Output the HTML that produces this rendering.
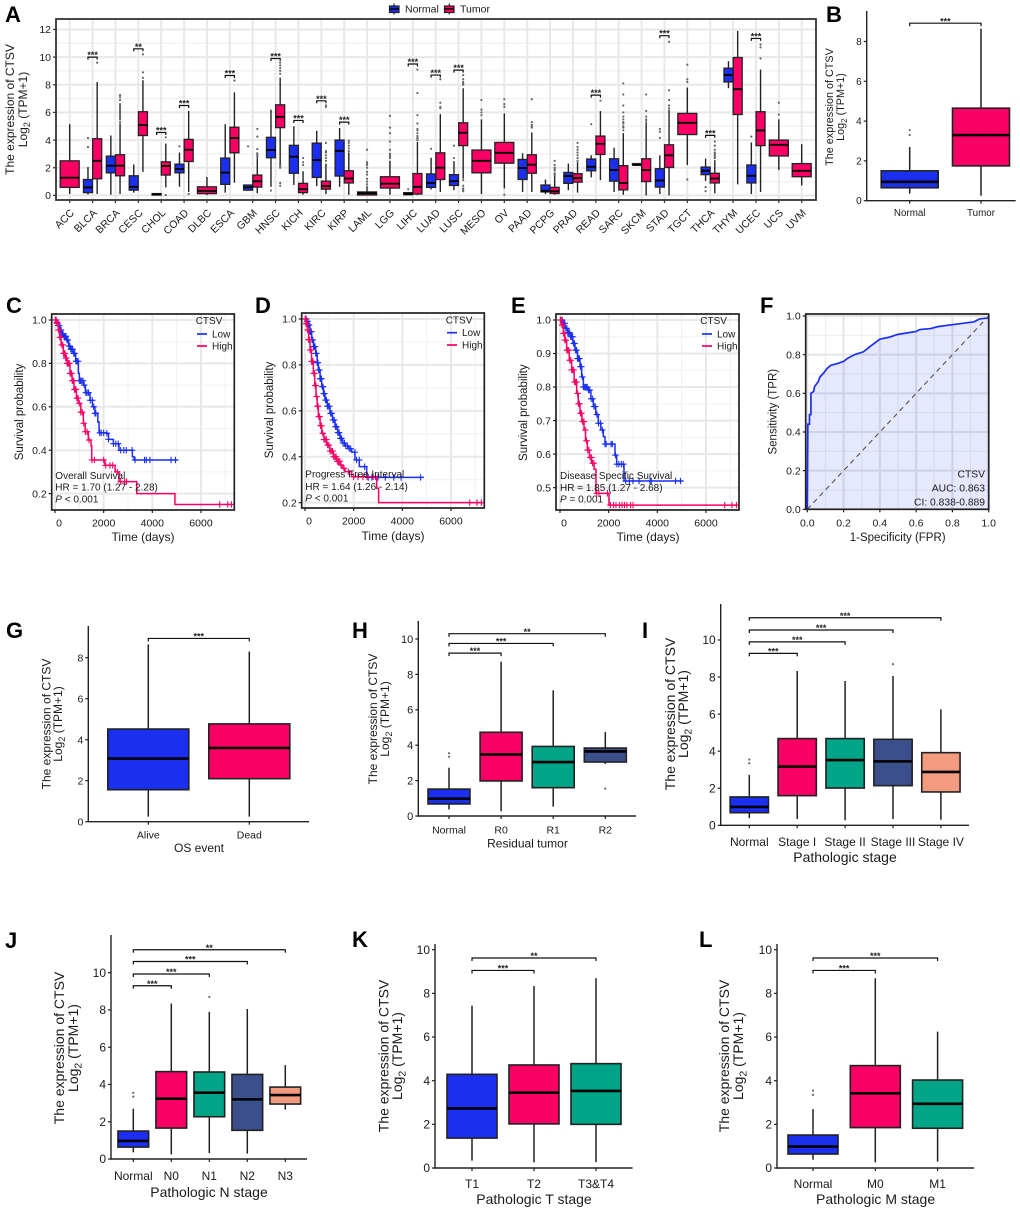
<!DOCTYPE html>
<html lang="en">
<head>
<meta charset="utf-8">
<title>CTSV expression figure</title>
<style>
html,body{margin:0;padding:0;background:#fff;}
svg{display:block;font-family:"Liberation Sans",Arial,sans-serif;filter:blur(0.3px);}
.letter{font-size:22px;font-weight:700;fill:#000;}
.ytitle{text-anchor:middle;fill:#1a1a1a;}
.xtitle{text-anchor:middle;fill:#1a1a1a;}
.note{font-size:10px;fill:#1a1a1a;}
</style>
</head>
<body>
<svg id="figure" xmlns="http://www.w3.org/2000/svg" width="1020" height="1212" viewBox="0 0 1020 1212">
<rect x="0" y="0" width="1020" height="1212" fill="#fff"/>

<g>
  <g id="marks-a"></g>
  <text class="letter" x="5" y="22">A</text>
  <text class="ytitle" font-size="12" transform="translate(14 109.5) rotate(-90)">The expression of CTSV</text>
  <text class="ytitle" font-size="12" transform="translate(27 109.5) rotate(-90)">Log<tspan font-size="9" dy="3">2</tspan><tspan dy="-3"> (TPM+1)</tspan></text>
  <g>
    <line x1="394" x2="394" y1="3.5" y2="14.5" stroke="#222" stroke-width="1.2"/>
    <rect x="389.5" y="6" width="9.5" height="6.5" fill="#1a2ff0" stroke="#222" stroke-width="1.2"/>
    <line x1="389.5" x2="399" y1="9" y2="9" stroke="#000" stroke-width="1.5"/>
    <text x="405" y="12.7" font-size="10.5" fill="#1a1a1a">Normal</text>
    <line x1="449.3" x2="449.3" y1="3.5" y2="14.5" stroke="#222" stroke-width="1.2"/>
    <rect x="444.5" y="6" width="9.5" height="6.5" fill="#fa0064" stroke="#222" stroke-width="1.2"/>
    <line x1="444.5" x2="454" y1="9" y2="9" stroke="#000" stroke-width="1.5"/>
    <text x="460" y="12.7" font-size="10.5" fill="#1a1a1a">Tumor</text>
  </g>
</g>

<g>
  <g id="marks-b"></g>
  <text class="letter" x="826" y="22">B</text>
  <text class="ytitle" font-size="10.8" transform="translate(833 107) rotate(-90)">The expression of CTSV</text>
  <text class="ytitle" font-size="10.8" transform="translate(844 107) rotate(-90)">Log<tspan font-size="8" dy="3">2</tspan><tspan dy="-3"> (TPM+1)</tspan></text>
</g>

<g>
  <g id="marks-c"></g>
  <text class="letter" x="6" y="313">C</text>
  <text class="ytitle" font-size="11.5" transform="translate(23 412) rotate(-90)">Survival probability</text>
  <text class="xtitle" font-size="12" x="143" y="541">Time (days)</text>
  <text class="note" x="55.3" y="479">Overall Survival</text>
  <text class="note" x="55.3" y="490.5">HR = 1.70 (1.27 -  2.28)</text>
  <text class="note" x="55.3" y="502.5"><tspan font-style="italic">P</tspan> &lt; 0.001</text>
  <text class="note" x="195.7" y="324">CTSV</text>
  <line x1="197" x2="207" y1="334" y2="334" stroke="#1a2ff0" stroke-width="1.7"/>
  <text class="note" x="212" y="337.5">Low</text>
  <line x1="197" x2="207" y1="346" y2="346" stroke="#fa0064" stroke-width="1.7"/>
  <text class="note" x="212" y="349.5">High</text>
</g>

<g>
  <g id="marks-d"></g>
  <text class="letter" x="255" y="313">D</text>
  <text class="ytitle" font-size="11.5" transform="translate(273 410) rotate(-90)">Survival probability</text>
  <text class="xtitle" font-size="12" x="393" y="540">Time (days)</text>
  <text class="note" x="305.3" y="477.7">Progress Free Interval</text>
  <text class="note" x="305.3" y="490">HR = 1.64 (1.26 -  2.14)</text>
  <text class="note" x="305.3" y="501.5"><tspan font-style="italic">P</tspan> &lt; 0.001</text>
  <text class="note" x="445.7" y="323.5">CTSV</text>
  <line x1="447" x2="457" y1="332.7" y2="332.7" stroke="#1a2ff0" stroke-width="1.7"/>
  <text class="note" x="462" y="336.2">Low</text>
  <line x1="447" x2="457" y1="345" y2="345" stroke="#fa0064" stroke-width="1.7"/>
  <text class="note" x="462" y="348.5">High</text>
</g>

<g>
  <g id="marks-e"></g>
  <text class="letter" x="511" y="313">E</text>
  <text class="ytitle" font-size="11.5" transform="translate(527 412.7) rotate(-90)">Survival probability</text>
  <text class="xtitle" font-size="12" x="648" y="541">Time (days)</text>
  <text class="note" x="560" y="479">Disease Specific Survival</text>
  <text class="note" x="560" y="490.8">HR = 1.85 (1.27 -  2.68)</text>
  <text class="note" x="560" y="502.5"><tspan font-style="italic">P</tspan> = 0.001</text>
  <text class="note" x="700.3" y="324">CTSV</text>
  <line x1="702" x2="712" y1="334" y2="334" stroke="#1a2ff0" stroke-width="1.7"/>
  <text class="note" x="717" y="337.5">Low</text>
  <line x1="702" x2="712" y1="346" y2="346" stroke="#fa0064" stroke-width="1.7"/>
  <text class="note" x="717" y="349.5">High</text>
</g>

<g>
  <g id="marks-f"></g>
  <text class="letter" x="760" y="313">F</text>
  <text class="ytitle" font-size="11.5" transform="translate(776.5 411.7) rotate(-90)">Sensitivity (TPR)</text>
  <text class="xtitle" font-size="11.5" x="897.7" y="541">1-Specificity (FPR)</text>
  <text font-size="10.3" fill="#1a1a1a" text-anchor="end" x="985" y="477.5">CTSV</text>
  <text font-size="10.3" fill="#1a1a1a" text-anchor="end" x="985" y="491.5">AUC: 0.863</text>
  <text font-size="10.3" fill="#1a1a1a" text-anchor="end" x="985" y="505.5">CI: 0.838-0.889</text>
</g>

<g>
  <g id="marks-g"></g>
  <text class="letter" x="6" y="638">G</text>
  <text class="ytitle" font-size="12" transform="translate(50.5 724) rotate(-90)">The expression of CTSV</text>
  <text class="ytitle" font-size="12" transform="translate(62 724) rotate(-90)">Log<tspan font-size="9" dy="3">2</tspan><tspan dy="-3"> (TPM+1)</tspan></text>
  <text class="xtitle" font-size="12" x="199" y="852">OS event</text>
</g>

<g>
  <g id="marks-h"></g>
  <text class="letter" x="352" y="638">H</text>
  <text class="ytitle" font-size="12" transform="translate(377 719) rotate(-90)">The expression of CTSV</text>
  <text class="ytitle" font-size="12" transform="translate(389 719) rotate(-90)">Log<tspan font-size="9" dy="3">2</tspan><tspan dy="-3"> (TPM+1)</tspan></text>
  <text class="xtitle" font-size="12" x="527.5" y="847.5">Residual tumor</text>
</g>

<g>
  <g id="marks-i"></g>
  <text class="letter" x="642" y="638">I</text>
  <text class="ytitle" font-size="14" transform="translate(675 714) rotate(-90)">The expression of CTSV</text>
  <text class="ytitle" font-size="14" transform="translate(688 714) rotate(-90)">Log<tspan font-size="10.5" dy="3.5">2</tspan><tspan dy="-3.5"> (TPM+1)</tspan></text>
  <text class="xtitle" font-size="14" x="845" y="862">Pathologic stage</text>
</g>

<g>
  <g id="marks-j"></g>
  <text class="letter" x="5" y="948">J</text>
  <text class="ytitle" font-size="14" transform="translate(64 1048) rotate(-90)">The expression of CTSV</text>
  <text class="ytitle" font-size="14" transform="translate(78 1048) rotate(-90)">Log<tspan font-size="10.5" dy="3.5">2</tspan><tspan dy="-3.5"> (TPM+1)</tspan></text>
  <text class="xtitle" font-size="14" x="209" y="1197">Pathologic N stage</text>
</g>

<g>
  <g id="marks-k"></g>
  <text class="letter" x="352" y="947">K</text>
  <text class="ytitle" font-size="14" transform="translate(388.5 1056) rotate(-90)">The expression of CTSV</text>
  <text class="ytitle" font-size="14" transform="translate(402 1056) rotate(-90)">Log<tspan font-size="10.5" dy="3.5">2</tspan><tspan dy="-3.5"> (TPM+1)</tspan></text>
  <text class="xtitle" font-size="14" x="534" y="1204">Pathologic T stage</text>
</g>

<g>
  <g id="marks-l"></g>
  <text class="letter" x="699" y="947">L</text>
  <text class="ytitle" font-size="14" transform="translate(729 1056) rotate(-90)">The expression of CTSV</text>
  <text class="ytitle" font-size="14" transform="translate(743 1056) rotate(-90)">Log<tspan font-size="10.5" dy="3.5">2</tspan><tspan dy="-3.5"> (TPM+1)</tspan></text>
  <text class="xtitle" font-size="14" x="875.6" y="1204">Pathologic M stage</text>
</g>
</svg>

<script>
/* ===== Panel A data: box stats are [low whisker, q1, median, q3, high whisker] ===== */
const aCategories = ["ACC","BLCA","BRCA","CESC","CHOL","COAD","DLBC","ESCA","GBM","HNSC","KICH","KIRC","KIRP","LAML","LGG","LIHC","LUAD","LUSC","MESO","OV","PAAD","PCPG","PRAD","READ","SARC","SKCM","STAD","TGCT","THCA","THYM","UCEC","UCS","UVM"];
const aTickLabels = [0,2,4,6,8,10,12];
const aNormalStats = [null,[0.07,0.2,0.58,1.15,2.05],[0.05,1.63,2.15,2.84,4.33],[0.2,0.38,0.62,1.42,2.24],[0,0.03,0.07,0.13,0.15],[0.62,1.63,1.9,2.26,3.1],null,[0.2,0.8,1.65,2.7,5.15],[0.38,0.38,0.58,0.75,0.75],[0.62,2.72,3.28,4.2,6.2],[0.75,1.6,2.8,3.62,5],[0.67,1.3,2.55,3.78,4.67],[0.62,1.4,3.22,4,4.88],null,null,[0.03,0.05,0.1,0.2,0.25],[0.43,0.58,0.9,1.55,2.72],[0.38,0.72,1.03,1.5,2.48],null,null,[0.25,1.15,1.98,2.6,3.05],[0.1,0.25,0.33,0.75,1.15],[0.38,0.87,1.4,1.66,2.3],[1.3,1.78,2.07,2.63,2.9],[0.25,1.03,1.83,2.65,3.45],[2.2,2.2,2.2,2.3,2.3],[0.1,0.6,1.08,1.93,2.9],null,[1.05,1.5,1.78,2.05,2.67],[7.75,8.2,8.7,9.2,9.7],[0.1,0.9,1.42,2.2,3.83],null,null];
const aTumorStats = [[0.1,0.58,1.28,2.5,5.15],[0.1,1.2,2.5,4.1,8.2],[0.1,1.42,2.15,2.94,5.2],[1.7,4.33,5.08,6.05,8.33],[0.58,1.47,2.13,2.43,3.75],[0.25,2.45,3.3,4.05,6.1],[0.02,0.13,0.33,0.62,1.33],[0.92,3.08,4.15,4.93,7.45],[0.15,0.6,1.02,1.47,2.67],[2.3,4.9,5.68,6.55,8.52],[0.05,0.2,0.45,0.87,1.75],[0.1,0.45,0.67,1.03,2.3],[0.05,0.9,1.22,1.78,3.1],[0,0.03,0.15,0.25,0.28],[0.05,0.53,0.85,1.35,2.5],[0.02,0.1,0.62,1.58,3.87],[0.25,1.15,2,3.08,5.88],[1.2,3.6,4.53,5.25,7.75],[0.1,1.63,2.5,3.28,5.5],[0.5,2.33,3.08,3.83,5.93],[0.25,1.6,2.22,2.94,4.55],[0.05,0.14,0.3,0.58,1.35],[0.2,0.96,1.25,1.57,2.4],[1.1,2.96,3.73,4.29,6.1],[0.05,0.4,0.9,2.15,4.5],[0,1,1.83,2.65,5.3],[0,2.02,2.9,3.66,6.2],[2.2,4.4,5.25,5.93,7.8],[0.15,0.9,1.22,1.6,2.55],[0.8,5.85,7.68,9.97,11.9],[0.25,3.6,4.7,6.05,9.1],[1.83,2.85,3.66,4,5.5],[0.72,1.35,1.78,2.3,3.7]];
const aNormalOutliers = [[],[3.5,4.15],[],[],[],[3.55],[],[],[3.55],[0.35],[],[],[],[],[],[0.45],[3.37],[2.7,3.6],[],[],[],[],[],[5.15],[],[],[4.15,4.6,4.8],[],[0.3,0.6],[],[4.25],[],[]];
const aTumorOutliers = [[],[9.6],[5.3,5.5,5.6,5.7,5.8,5.9,6,6.1,6.2,6.3,6.4,6.5,6.6,6.9,7.1,7.25],[8.5,8.9,10.2],[0.02,4.2],[0.1],[],[8.3],[2.75,2.85,2.95,3.05,3.35,4.25,4.8],[8.8,9,9.2,9.4,9.6,2,2.1,2.2,2.3,0.7,0.9],[2.2,2.4,2.7],[2.5,2.7,2.9,3.1,3.2,3.8,6.4,6.5],[3.2,3.4,3.6,3.8,3.95],[0.3,0.4,0.5,0.6,0.8,1,1.2,1.5,1.7,2,2.2,2.3,2.4,3.3],[2.7,2.8,2.9,3,3.3,3.9,4.5,4.9,5.75],[4,4.1,4.2,4.3,4.5,4.7,4.8,5.2,5.8,7.4,9.1],[6.3,6.4,6.7,8.4],[8,8.1,8.2,8.4,8.7,0.3,0.4,0.5,0.7,1.1],[5.8,6,6.2,6.9],[0.05,6.4,6.6,6.95],[4.9,5,5.1,5.3,6.95],[1.4,1.5,1.6,1.8,1.9,2,2.2,2.5],[2.5,2.7,2.9,3.1,3.3,3.5,3.8],[6.85],[4.7,4.9,5,5.2,5.3,5.5,5.7,6,6.5,7.3,8.1],[5.4,5.5,5.7,6.1,7.3],[6.3,6.5,6.9,7.6,11.1],[1.15,8.2,8.4,9.45],[2.7,2.8,2.9,3,3.1,3.3,3.6,3.9],[],[9.9,10.7,10.9],[5.85,6.7],[]];
const aSigCategories = ["BLCA","CESC","CHOL","COAD","ESCA","HNSC","KICH","KIRC","KIRP","LIHC","LUAD","LUSC","READ","STAD","THCA","UCEC"];
const aSigLevels = [10,10.6,4.55,6.5,8.67,9.9,5.42,6.84,5.3,9.5,8.7,9.06,7.25,11.55,4.34,11.35];
const aSigLabels = ["***","**","***","***","***","***","***","***","***","***","***","***","***","***","***","***"];

/* ===== Panel B ===== */
const bCategories = ["Normal","Tumor"];
const bTickLabels = [0,2,4,6,8];
const bStats = [[0.35,0.65,0.95,1.5,2.7],[0.25,1.75,3.3,4.65,8.65]];
const bOutliers = [[3.3,3.55],[]];
const bBracketEnds = [1];
const bBracketLevels = [8.92];
const bBracketLabels = ["***"];

/* ===== Panel C, D, E: Kaplan-Meier curves ===== */
const cLowTimes = [0,60,120,205,280,360,480,560,650,750,850,960,1000,1165,1250,1440,1540,1640,1760,1810,2120,2200,2400,2630,3180,3250];
const cLowSurvival = [1,0.99,0.975,0.954,0.935,0.925,0.908,0.88,0.865,0.846,0.81,0.754,0.72,0.7,0.665,0.63,0.6,0.57,0.53,0.48,0.478,0.45,0.43,0.4,0.37,0.355];
const cLowCensored = [30,80,130,170,210,250,290,330,370,410,450,490,530,570,610,650,690,730,770,810,860,900,950,1000,1050,1100,1150,1200,1270,1320,1380,1450,1530,1590,1640,1680,1840,1900,2000,2130,2200,2400,2500,2600,2700,2830,2930,3170,3290,3680,3750,3900,4770,4950];
const cHighTimes = [0,70,137,190,250,340,420,500,616,700,780,880,960,1060,1165,1240,1370,1480,1510,2050,2470,2630,3360,4930];
const cHighSurvival = [1,0.985,0.954,0.92,0.885,0.846,0.825,0.8,0.754,0.72,0.68,0.64,0.616,0.575,0.524,0.485,0.447,0.42,0.355,0.33,0.3,0.255,0.2,0.15];
const cHighCensored = [20,50,80,110,140,170,200,240,280,320,350,380,410,440,470,500,530,560,590,620,650,680,710,740,770,800,830,860,900,950,1000,1060,1120,1180,1250,1320,1400,1520,1620,2000,2080,2260,2370,2560,2700,2860,2940,6770,7100,7250];
const kmTimeTicks = [0,2000,4000,6000];

const dLowTimes = [0,70,137,200,274,350,438,500,548,620,685,760,822,920,1027,1130,1233,1340,1438,1540,1644,1780,1918,2055,2233,2534];
const dLowSurvival = [1,0.99,0.974,0.945,0.909,0.88,0.85,0.81,0.778,0.74,0.705,0.675,0.647,0.62,0.589,0.56,0.531,0.505,0.48,0.46,0.447,0.435,0.42,0.386,0.357,0.31];
const dLowCensored = [20,50,80,110,140,170,200,230,260,290,320,350,380,410,440,470,500,530,560,590,620,650,680,710,740,770,800,840,880,920,960,1000,1050,1100,1150,1200,1250,1300,1350,1400,1450,1500,1560,1620,1680,1750,1820,1880,2050,2120,2230,2450,2600,2750,3000,3300,3650,3950,4750];
const dHighTimes = [0,50,96,150,205,270,342,400,452,500,548,620,685,780,890,1020,1164,1300,1438,1540,1644,1918,2945,3027];
const dHighSurvival = [1,0.98,0.952,0.91,0.865,0.815,0.763,0.71,0.662,0.62,0.575,0.535,0.502,0.475,0.451,0.425,0.4,0.38,0.364,0.35,0.335,0.313,0.263,0.2];
const dHighCensored = [10,30,50,70,90,110,130,150,170,190,210,240,270,300,330,360,390,420,450,480,510,540,570,600,640,680,730,780,830,880,930,980,1030,1080,1130,1180,1230,1280,1330,1380,1430,1480,1600,1780,2000,2180,2380,2550,2800,2900,6770,7070,7250];

const eLowTimes = [0,100,205,320,438,530,616,720,822,890,959,1164,1270,1370,1470,1575,1680,1781,1849,2123,2260,2329,2630];
const eLowSurvival = [1,0.99,0.975,0.962,0.95,0.93,0.91,0.885,0.861,0.83,0.8,0.791,0.765,0.742,0.718,0.692,0.672,0.652,0.63,0.63,0.597,0.57,0.52];
const eLowCensored = [40,90,140,190,240,280,320,360,400,440,480,520,560,600,640,680,720,760,800,840,880,920,960,1000,1040,1080,1120,1170,1220,1280,1340,1400,1450,1520,1580,1660,1740,1850,1900,2100,2150,2280,2340,2420,2520,2600,2700,2850,3000,3250,3700,3750,4750,4950];
const eHighTimes = [0,60,137,200,274,380,479,580,685,750,822,900,986,1050,1123,1210,1301,1400,1479,1959,2014];
const eHighSurvival = [1,0.985,0.96,0.94,0.91,0.88,0.851,0.815,0.781,0.75,0.722,0.697,0.672,0.64,0.612,0.59,0.573,0.555,0.483,0.483,0.448];
const eHighCensored = [20,50,80,110,140,170,200,240,280,320,360,400,440,480,520,560,600,640,680,720,760,800,840,880,930,980,1040,1090,1140,1190,1240,1290,1340,1390,1510,1600,1950,2070,2200,2300,2450,2550,2650,2750,2900,3000,6770,7070,7250];

/* ===== Panel F: ROC ===== */
const fFpr = [0,0.003,0.012,0.012,0.02,0.02,0.035,0.04,0.06,0.07,0.09,0.11,0.13,0.17,0.2,0.22,0.26,0.31,0.35,0.4,0.45,0.5,0.6,0.62,0.68,0.72,0.8,0.92,0.95,1];
const fTpr = [0,0.44,0.44,0.49,0.49,0.6,0.61,0.635,0.66,0.685,0.705,0.73,0.745,0.755,0.765,0.78,0.8,0.815,0.845,0.88,0.89,0.905,0.92,0.93,0.935,0.945,0.955,0.97,0.985,0.99];
const fTicks = [0,0.2,0.4,0.6,0.8,1];

/* ===== Panel G ===== */
const gCategories = ["Alive","Dead"];
const gTickLabels = [0,2,4,6,8];
const gStats = [[0.25,1.56,3.08,4.52,8.65],[0.25,2.1,3.6,4.77,8.3]];
const gOutliers = [[],[]];
const gBracketEnds = [1];
const gBracketLevels = [8.94];
const gBracketLabels = ["***"];

/* ===== Panel H ===== */
const hCategories = ["Normal","R0","R1","R2"];
const hTickLabels = [0,2,4,6,8,10];
const hStats = [[0.37,0.68,0.98,1.52,2.73],[0.26,1.98,3.48,4.73,8.72],[0.53,1.6,3.05,3.93,7.1],[2.94,3.05,3.65,3.84,4.75]];
const hOutliers = [[3.35,3.55],[],[],[1.55]];
const hBracketEnds = [1,2,3];
const hBracketLevels = [9.2,9.75,10.3];
const hBracketLabels = ["***","***","**"];

/* ===== Panel I ===== */
const iCategories = ["Normal","Stage I","Stage II","Stage III","Stage IV"];
const iTickLabels = [0,2,4,6,8,10];
const iStats = [[0.38,0.68,0.99,1.53,2.72],[0.34,1.6,3.17,4.68,8.33],[0.27,2.01,3.52,4.68,7.79],[0.34,2.14,3.45,4.64,8.06],[0.3,1.8,2.88,3.92,6.26]];
const iOutliers = [[3.35,3.55],[],[],[8.7],[]];
const iBracketEnds = [1,2,3,4];
const iBracketLevels = [9.28,9.9,10.54,11.2];
const iBracketLabels = ["***","***","***","***"];

/* ===== Panel J ===== */
const jCategories = ["Normal","N0","N1","N2","N3"];
const jTickLabels = [0,2,4,6,8,10];
const jStats = [[0.36,0.64,0.97,1.5,2.7],[0.25,1.66,3.24,4.69,8.35],[0.32,2.27,3.56,4.67,7.9],[0.29,1.54,3.2,4.54,8.05],[2.65,2.95,3.43,3.86,5.04]];
const jOutliers = [[3.35,3.55],[],[8.7],[],[]];
const jBracketEnds = [1,2,3,4];
const jBracketLevels = [9.3,9.93,10.6,11.23];
const jBracketLabels = ["***","***","***","**"];

/* ===== Panel K ===== */
const kCategories = ["T1","T2","T3&T4"];
const kTickLabels = [0,2,4,6,8,10];
const kStats = [[0.34,1.37,2.73,4.29,7.44],[0.26,2.02,3.45,4.72,8.34],[0.27,2,3.53,4.78,8.69]];
const kOutliers = [[],[],[]];
const kBracketEnds = [1,2];
const kBracketLevels = [9.05,9.62];
const kBracketLabels = ["***","**"];

/* ===== Panel L ===== */
const lCategories = ["Normal","M0","M1"];
const lTickLabels = [0,2,4,6,8,10];
const lStats = [[0.38,0.64,0.98,1.51,2.7],[0.26,1.85,3.42,4.69,8.69],[0.29,1.82,2.94,4.03,6.25]];
const lOutliers = [[3.35,3.55],[],[]];
const lBracketEnds = [1,2];
const lBracketLevels = [9.05,9.62];
const lBracketLabels = ["***","***"];

/* ===== Drawing ===== */
const NS = "http://www.w3.org/2000/svg";
const BLUE = "#1a2ff0", PINK = "#fa0064", TEAL = "#00a587", NAVY = "#3b4f8c", SALMON = "#f39b7f";
const palette = [BLUE, PINK, TEAL, NAVY, SALMON];

function mk(parent, tag, attrs) {
  const e = document.createElementNS(NS, tag);
  for (const k in attrs) e.setAttribute(k, attrs[k]);
  parent.appendChild(e);
  return e;
}
function txt(parent, str, x, y, size, anchor, fill) {
  const e = mk(parent, "text", {x: x, y: y + size * 0.35, "font-size": size, "text-anchor": anchor, fill: fill || "#1a1a1a"});
  e.textContent = str;
  return e;
}

function drawBox(g, cx, w, s, color, name, boxSw, medSw, whSw) {
  const y = g.__y;
  const whisker = mk(g, "line", {x1: cx, x2: cx, y1: y(s[0]), y2: y(s[4]), stroke: "#222", "stroke-width": whSw});
  
  
  const box = mk(g, "rect", {x: cx - w / 2, y: y(s[3]), width: w, height: Math.max(y(s[1]) - y(s[3]), 0.5), fill: color, stroke: "#222", "stroke-width": boxSw});
  
  
  const med = mk(g, "line", {x1: cx - w / 2, x2: cx + w / 2, y1: y(s[2]), y2: y(s[2]), stroke: "#000", "stroke-width": medSw});
  
  
}
function drawOutliers(g, cx, vals, r, name) {
  vals.forEach(function (v) {
    const c = mk(g, "circle", {cx: cx, cy: g.__y(v), r: r, fill: "#666"});
    
    
  });
}
function drawBracket(g, x1, x2, v, label, drop, size) {
  const y = g.__y(v);
  const p = mk(g, "path", {d: "M" + x1 + " " + (y + drop) + "V" + y + "H" + x2 + "V" + (y + drop), fill: "none", stroke: "#111", "stroke-width": 1.2});
  
  
  const t = mk(g, "text", {x: (x1 + x2) / 2, y: y + size * 0.12, "font-size": size, "font-weight": 700, "text-anchor": "middle", fill: "#222"});
  t.textContent = label;
  
  
}

/* Panel with open axes, boxes coloured by palette */
function boxPanel(o) {
  const g = document.getElementById(o.id);
  const x = function (i) { return o.first + i * o.step; };
  const y = function (v) { return o.y0 - v * o.unit; };
  g.__y = y;
  o.stats.forEach(function (s, i) {
    drawBox(g, x(i), o.boxW, s, palette[i], "box-" + o.cats[i].toLowerCase().replace(/[^a-z0-9]+/g, "-"), 1.6, 2.6, 1.5);
    drawOutliers(g, x(i), o.outliers[i], 1.1, "box-" + o.cats[i].toLowerCase().replace(/[^a-z0-9]+/g, "-"));
  });
  o.ends.forEach(function (end, i) {
    drawBracket(g, x(0), x(end), o.levels[i], o.sig[i], 3, 9);
  });
  const ya = mk(g, "line", {x1: o.left, x2: o.left, y1: o.top, y2: o.y0 + 0.7, stroke: "#222", "stroke-width": 1.4});
  
  
  const xa = mk(g, "line", {x1: o.left - 0.7, x2: o.right, y1: o.y0, y2: o.y0, stroke: "#222", "stroke-width": 1.4});
  
  
  o.ticks.forEach(function (v) {
    const tk = mk(g, "line", {x1: o.left - 3, x2: o.left, y1: y(v), y2: y(v), stroke: "#222", "stroke-width": 1.2});
    
    
    const lb = txt(g, String(v), o.left - 5, y(v), o.tickSize, "end");
    
    
  });
  o.cats.forEach(function (c, i) {
    const tk = mk(g, "line", {x1: x(i), x2: x(i), y1: o.y0, y2: o.y0 + 3, stroke: "#222", "stroke-width": 1.2});
    
    
    const lb = txt(g, c, x(i), o.labelY, o.catSize, "middle");
    
    
  });
}

boxPanel({id:"marks-b",cats:bCategories,stats:bStats,outliers:bOutliers,ends:bBracketEnds,levels:bBracketLevels,sig:bBracketLabels,ticks:bTickLabels,first:909.7,step:71.3,boxW:57,y0:200.7,unit:19.9,left:866.7,right:1015.7,top:11,tickSize:10,catSize:9.8,labelY:212.7});
boxPanel({id:"marks-g",cats:gCategories,stats:gStats,outliers:gOutliers,ends:gBracketEnds,levels:gBracketLevels,sig:gBracketLabels,ticks:gTickLabels,first:148.3,step:101,boxW:81,y0:821.7,unit:20.5,left:88.3,right:309,top:626,tickSize:10.5,catSize:10.5,labelY:835});
boxPanel({id:"marks-h",cats:hCategories,stats:hStats,outliers:hOutliers,ends:hBracketEnds,levels:hBracketLevels,sig:hBracketLabels,ticks:hTickLabels,first:449,step:52.1,boxW:42,y0:816,unit:17.7,left:418.3,right:636,top:621,tickSize:11,catSize:10.5,labelY:830});
boxPanel({id:"marks-i",cats:iCategories,stats:iStats,outliers:iOutliers,ends:iBracketEnds,levels:iBracketLevels,sig:iBracketLabels,ticks:iTickLabels,first:749.3,step:47.9,boxW:38.3,y0:825.3,unit:18.53,left:720.7,right:969,top:604,tickSize:12,catSize:12,labelY:841.7});
boxPanel({id:"marks-j",cats:jCategories,stats:jStats,outliers:jOutliers,ends:jBracketEnds,levels:jBracketLevels,sig:jBracketLabels,ticks:jTickLabels,first:133.3,step:38,boxW:30.7,y0:1159,unit:18.63,left:111,right:307,top:935,tickSize:12,catSize:12,labelY:1176});
boxPanel({id:"marks-k",cats:kCategories,stats:kStats,outliers:kOutliers,ends:kBracketEnds,levels:kBracketLevels,sig:kBracketLabels,ticks:kTickLabels,first:472,step:62,boxW:50,y0:1168,unit:21.83,left:435,right:632.6,top:944,tickSize:12,catSize:12,labelY:1184});
boxPanel({id:"marks-l",cats:lCategories,stats:lStats,outliers:lOutliers,ends:lBracketEnds,levels:lBracketLevels,sig:lBracketLabels,ticks:lTickLabels,first:813,step:62.3,boxW:50,y0:1168,unit:21.83,left:777,right:974,top:944,tickSize:12,catSize:12,labelY:1184});

/* Panel A */
(function () {
  const g = document.getElementById("marks-a");
  const x = function (i) { return 69.7 + i * 22.875; };
  const y = function (v) { return 195.4 - v * 13.83; };
  g.__y = y;
  const L = 56, R = 816, T = 19, B = 200, off = 4.6;
  for (let v = 1; v < 13; v += 2) {
    const m = mk(g, "line", {x1: L, x2: R, y1: y(v), y2: y(v), stroke: "#eeeeee", "stroke-width": 1});
    
    
  }
  aTickLabels.forEach(function (v) {
    const m = mk(g, "line", {x1: L, x2: R, y1: y(v), y2: y(v), stroke: "#e8e8e8", "stroke-width": 2});
    
    
  });
  aCategories.forEach(function (c, i) {
    const m = mk(g, "line", {x1: x(i), x2: x(i), y1: T, y2: B, stroke: "#e8e8e8", "stroke-width": 2});
    
    
  });
  aCategories.forEach(function (c, i) {
    const both = aNormalStats[i] !== null;
    const name = c.toLowerCase();
    if (both) {
      drawOutliers(g, x(i) - off, aNormalOutliers[i], 1.1, name + "-normal");
      drawBox(g, x(i) - off, 9, aNormalStats[i], BLUE, name + "-normal", 1.3, 1.9, 1.4);
    }
    drawOutliers(g, both ? x(i) + off : x(i), aTumorOutliers[i], 1.1, name + "-tumor");
    drawBox(g, both ? x(i) + off : x(i), both ? 9 : 19, aTumorStats[i], PINK, name + "-tumor", 1.3, 1.9, 1.4);
  });
  aSigCategories.forEach(function (c, i) {
    const k = aCategories.indexOf(c);
    drawBracket(g, x(k) - off, x(k) + off, aSigLevels[i], aSigLabels[i], 2.5, 9);
  });
  const f = mk(g, "rect", {x: L, y: T, width: R - L, height: B - T, fill: "none", stroke: "#333", "stroke-width": 1.8});
  
  
  aTickLabels.forEach(function (v) {
    const tk = mk(g, "line", {x1: L - 3, x2: L, y1: y(v), y2: y(v), stroke: "#333", "stroke-width": 1.2});
    
    
    const lb = txt(g, String(v), L - 5, y(v), 10.5, "end");
    
    
  });
  aCategories.forEach(function (c, i) {
    const tk = mk(g, "line", {x1: x(i), x2: x(i), y1: B, y2: B + 3, stroke: "#333", "stroke-width": 1.2});
    
    
    const lb = mk(g, "text", {"font-size": 10.5, "text-anchor": "end", fill: "#1a1a1a", transform: "translate(" + (x(i) + 5) + " 213.5) rotate(-45)"});
    lb.textContent = c;
    
    
  });
})();

/* Kaplan-Meier panels */
function kmPanel(o) {
  const g = document.getElementById(o.id);
  const x = function (t) { return o.x0 + t * 0.02433; };
  const y = function (s) { return o.y1 + (1 - s) * o.unit; };
  for (let t = 1000; t <= 7000; t += 2000) {
    const m = mk(g, "line", {x1: x(t), x2: x(t), y1: o.T, y2: o.B, stroke: "#f0f0f0", "stroke-width": 1});
    
    
  }
  o.minorY.forEach(function (s) {
    const m = mk(g, "line", {x1: o.L, x2: o.R, y1: y(s), y2: y(s), stroke: "#f0f0f0", "stroke-width": 1});
    
    
  });
  kmTimeTicks.forEach(function (t) {
    const m = mk(g, "line", {x1: x(t), x2: x(t), y1: o.T, y2: o.B, stroke: "#e8e8e8", "stroke-width": 2});
    
    
  });
  o.ticksY.forEach(function (s) {
    const m = mk(g, "line", {x1: o.L, x2: o.R, y1: y(s), y2: y(s), stroke: "#e8e8e8", "stroke-width": 2});
    
    
  });
  function curve(times, surv, cens, end, color, name) {
    let d = "M" + x(times[0]) + " " + y(surv[0]);
    for (let i = 1; i < times.length; i++) d += "H" + x(times[i]) + "V" + y(surv[i]);
    d += "H" + x(end);
    const p = mk(g, "path", {d: d, fill: "none", stroke: color, "stroke-width": 1.5});
    
    
    cens.forEach(function (t) {
      let k = 0;
      for (let i = 0; i < times.length; i++) if (times[i] <= t) k = i;
      const m = mk(g, "line", {x1: x(t), x2: x(t), y1: y(surv[k]) - 3.2, y2: y(surv[k]) + 3.2, stroke: color, "stroke-width": 1.1});
      
      
      const h = mk(g, "line", {x1: x(t) - 3.2, x2: x(t) + 3.2, y1: y(surv[k]), y2: y(surv[k]), stroke: color, "stroke-width": 1.1});
      
      
    });
  }
  curve(o.lowT, o.lowS, o.lowC, o.lowEnd, BLUE, "low");
  curve(o.highT, o.highS, o.highC, 7300, PINK, "high");
  const f = mk(g, "rect", {x: o.L, y: o.T, width: o.R - o.L, height: o.B - o.T, fill: "none", stroke: "#222", "stroke-width": 1.7});
  
  
  o.ticksY.forEach(function (s) {
    const tk = mk(g, "line", {x1: o.L - 3, x2: o.L, y1: y(s), y2: y(s), stroke: "#222", "stroke-width": 1.2});
    
    
    const lb = txt(g, s.toFixed(1), o.L - 5, y(s), 10.5, "end");
    
    
  });
  kmTimeTicks.forEach(function (t) {
    const tk = mk(g, "line", {x1: x(t), x2: x(t), y1: o.B, y2: o.B + 3, stroke: "#222", "stroke-width": 1.2});
    
    
    const lb = txt(g, String(t), t === 0 ? x(t) + 4 : x(t), o.B + 13, 10.5, "middle");
    
    
  });
}
kmPanel({id:"marks-c",L:51.7,R:234.3,T:314,B:510,x0:55,y1:320,unit:217,ticksY:[0.2,0.4,0.6,0.8,1],minorY:[0.3,0.5,0.7,0.9],lowT:cLowTimes,lowS:cLowSurvival,lowC:cLowCensored,lowEnd:5050,highT:cHighTimes,highS:cHighSurvival,highC:cHighCensored});
kmPanel({id:"marks-d",L:301.7,R:484.3,T:313,B:508,x0:305,y1:319,unit:229.6,ticksY:[0.2,0.4,0.6,0.8,1],minorY:[0.3,0.5,0.7,0.9],lowT:dLowTimes,lowS:dLowSurvival,lowC:dLowCensored,lowEnd:4880,highT:dHighTimes,highS:dHighSurvival,highC:dHighCensored});
kmPanel({id:"marks-e",L:556,R:739,T:314,B:510,x0:560,y1:320,unit:335.3,ticksY:[0.5,0.6,0.7,0.8,0.9,1],minorY:[0.55,0.65,0.75,0.85,0.95],lowT:eLowTimes,lowS:eLowSurvival,lowC:eLowCensored,lowEnd:5050,highT:eHighTimes,highS:eHighSurvival,highC:eHighCensored});

/* ROC panel */
(function () {
  const g = document.getElementById("marks-f");
  const x = function (v) { return 807.3 + v * 181.4; };
  const y = function (v) { return 509.3 - v * 193.3; };
  const L = 805.7, R = 988.7, T = 314, B = 509.3;
  for (let v = 0.1; v < 1; v += 0.2) {
    const a = mk(g, "line", {x1: x(v), x2: x(v), y1: T, y2: B, stroke: "#eeeeee", "stroke-width": 1});
    
    
    const b = mk(g, "line", {x1: L, x2: R, y1: y(v), y2: y(v), stroke: "#eeeeee", "stroke-width": 1});
    
    
  }
  fTicks.forEach(function (v) {
    const a = mk(g, "line", {x1: x(v), x2: x(v), y1: T, y2: B, stroke: "#e4e4e4", "stroke-width": 2});
    
    
    const b = mk(g, "line", {x1: L, x2: R, y1: y(v), y2: y(v), stroke: "#e4e4e4", "stroke-width": 2});
    
    
  });
  let line = "M" + x(fFpr[0]) + " " + y(fTpr[0]);
  fFpr.forEach(function (f, i) { line += "L" + x(f) + " " + y(fTpr[i]); });
  const area = mk(g, "path", {d: line + "V" + y(0) + "Z", fill: BLUE, "fill-opacity": 0.11, stroke: "none"});
  
  
  const diag = mk(g, "line", {x1: x(0), y1: y(0), x2: x(1), y2: y(1), stroke: "#444", "stroke-width": 1, "stroke-dasharray": "5 4"});
  
  
  const roc = mk(g, "path", {d: line, fill: "none", stroke: BLUE, "stroke-width": 1.7});
  
  
  const f = mk(g, "rect", {x: L, y: T, width: R - L, height: B - T, fill: "none", stroke: "#222", "stroke-width": 1.7});
  
  
  fTicks.forEach(function (v) {
    const t1 = mk(g, "line", {x1: L - 3, x2: L, y1: y(v), y2: y(v), stroke: "#222", "stroke-width": 1.2});
    
    
    const l1 = txt(g, v.toFixed(1), L - 5, y(v), 10.5, "end");
    
    
    const t2 = mk(g, "line", {x1: x(v), x2: x(v), y1: B, y2: B + 3, stroke: "#222", "stroke-width": 1.2});
    
    
    const l2 = txt(g, v.toFixed(1), x(v), B + 13.5, 10.5, "middle");
    
    
  });
})();
</script>
</body>
</html>
